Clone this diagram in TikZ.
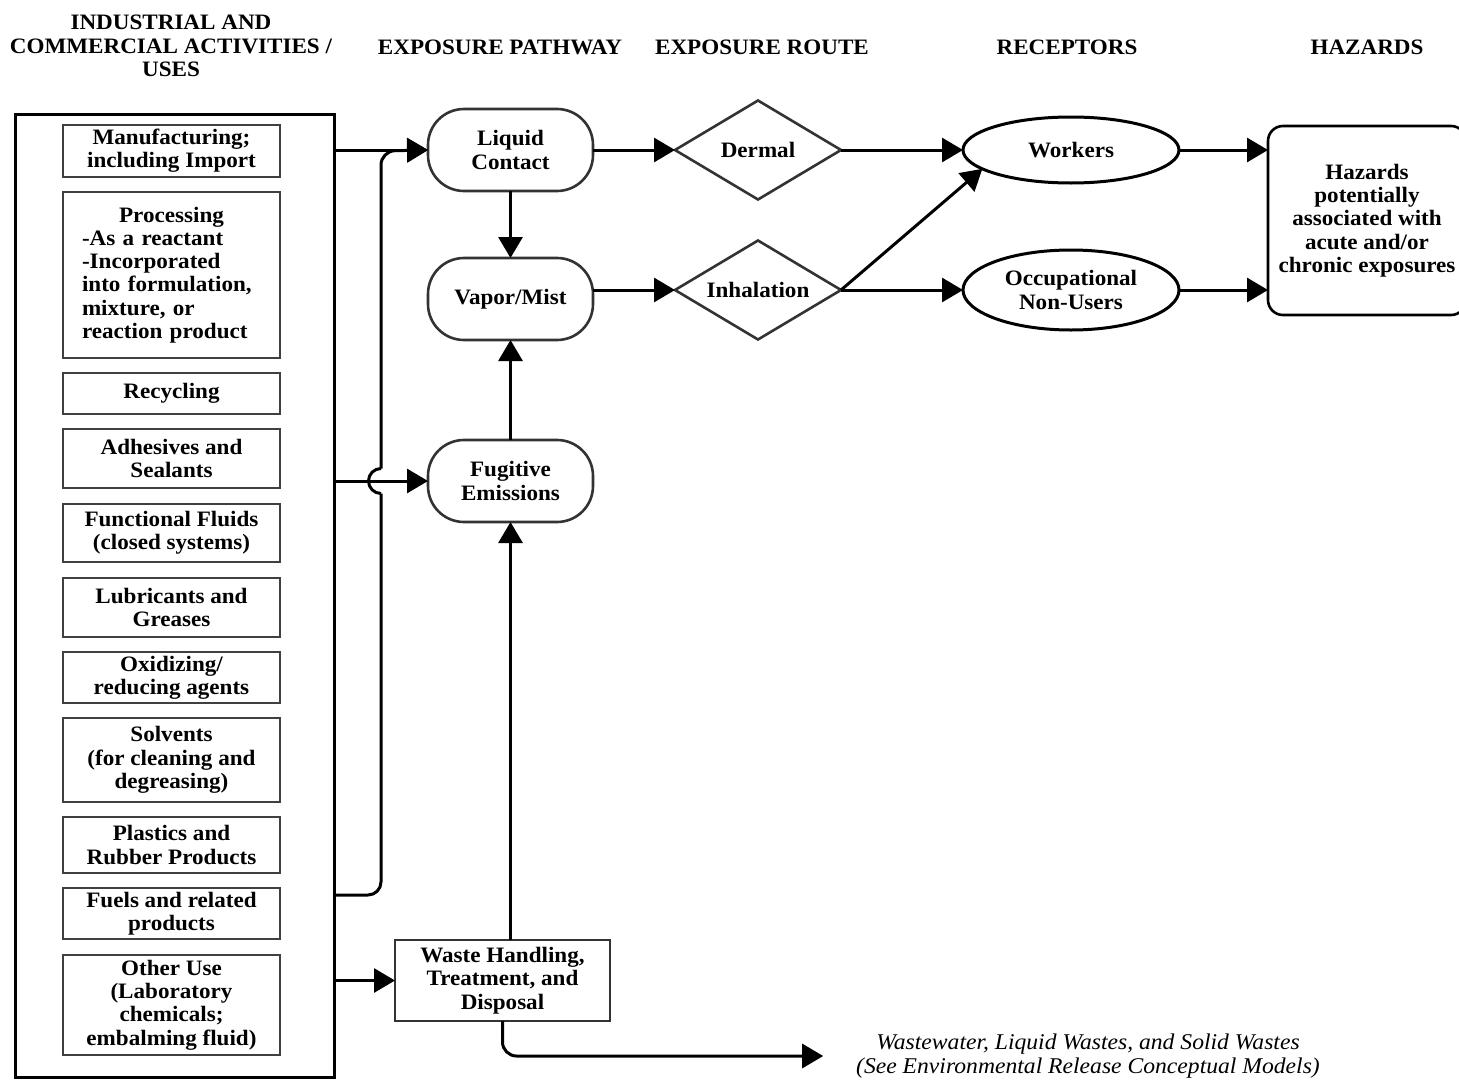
\documentclass[tikz,border=0pt]{standalone}
\usepackage{fontspec}
\setmainfont{Liberation Serif}[FakeStretch=1.05]
\usetikzlibrary{arrows.meta,shapes.geometric}

\begin{document}
\begin{tikzpicture}[x=1pt,y=-1pt,
  font=\fontsize{22}{23.3}\selectfont\bfseries,
  every node/.style={inner sep=0pt, outer sep=0pt},
  heading/.style={align=center},
  usebox/.style={draw=black!75, line width=2.8pt, minimum width=217pt, align=center},
  frame/.style={draw, line width=3pt},
  pathnode/.style={draw=black!80, line width=2.6pt, rounded corners=36pt,
    minimum width=165pt, minimum height=82pt, align=center},
  route/.style={diamond, aspect=1.68, draw=black!80, line width=2.6pt,
    minimum width=166pt, minimum height=99pt, align=center},
  receptor/.style={ellipse, draw, line width=3pt, minimum width=216pt, align=center},
  wline/.style={line width=3pt, line cap=butt},
  conn/.style={wline, -{Triangle[length=21pt,width=24pt]}}]

\useasboundingbox (0,0) rectangle (1459,1079);

% column headings
\node[heading] (h1) at (171,46) {INDUSTRIAL AND\\COMMERCIAL ACTIVITIES /\\USES};
\node[heading] (h2) at (500,47) {EXPOSURE PATHWAY};
\node[heading] (h3) at (762,47) {EXPOSURE ROUTE};
\node[heading] (h4) at (1067,47) {RECEPTORS};
\node[heading] (h5) at (1367,47) {HAZARDS};

% activities / uses
\node[frame, minimum width=319pt, minimum height=963pt] (uses) at (174.5,595.5) {};
\node[usebox, minimum height=52pt] (mfg) at (171.5,151) {Manufacturing;\\including Import};
\node[usebox, minimum height=166pt, text width=179pt, align=left] (proc) at (171.5,275)
  {\makebox[\linewidth][c]{Processing}\\-As a reactant\\-Incorporated\\into formulation,\\mixture, or\\reaction product};
\node[usebox, minimum height=41pt] (recy) at (171.5,393.5) {Recycling};
\node[usebox, minimum height=59pt] (adh) at (171.5,458.5) {Adhesives and\\Sealants};
\node[usebox, minimum height=58pt] (func) at (171.5,533) {Functional Fluids\\(closed systems)};
\node[usebox, minimum height=59pt] (lub) at (171.5,607.5) {Lubricants and\\Greases};
\node[usebox, minimum height=51pt] (oxi) at (171.5,677.5) {Oxidizing/\\reducing agents};
\node[usebox, minimum height=84pt] (solv) at (171.5,760) {Solvents\\(for cleaning and\\degreasing)};
\node[usebox, minimum height=56pt] (plas) at (171.5,845) {Plastics and\\Rubber Products};
\node[usebox, minimum height=51pt] (fuel) at (171.5,913.5) {Fuels and related\\products};
\node[usebox, minimum height=100pt] (other) at (171.5,1005) {Other Use\\(Laboratory\\chemicals;\\embalming fluid)};

% exposure pathways
\node[pathnode] (lc) at (510.5,150) {Liquid\\Contact};
\node[pathnode] (vm) at (510.5,299) {Vapor/Mist};
\node[pathnode] (fe) at (510.5,481) {Fugitive\\Emissions};
\node[frame, line width=2.6pt, draw=black!80, minimum width=215pt, minimum height=81pt, align=center]
  (waste) at (502.5,980.5) {Waste Handling,\\Treatment, and\\Disposal};
\node[font=\fontsize{22.5}{23.8}\selectfont\itshape, align=center, inner xsep=33pt]
  (ww) at (1088,1056) {Wastewater, Liquid Wastes, and Solid Wastes\\(See Environmental Release Conceptual Models)};

% exposure routes
\node[route] (derm) at (758,150) {Dermal};
\node[route] (inh) at (758,290) {Inhalation};

% receptors
\node[receptor, minimum height=66pt] (work) at (1071,150) {Workers};
\node[receptor, minimum height=80pt] (occ) at (1071,290) {Occupational\\Non-Users};

% hazards
\node[draw, line width=2.6pt, rounded corners=15pt, minimum width=198pt, minimum height=189pt, align=center]
  (haz) at (1367,220.5) {Hazards\\potentially\\associated with\\acute and/or\\chronic exposures};

% activities to pathways
\coordinate (bus) at (uses.east |- 0,895);
\draw[conn] (uses.east |- lc.west) -- (lc.west);
\draw[conn] (uses.east |- fe.west) -- (fe.west);
\draw[conn] (uses.east |- waste.west) -- (waste.west);
\draw[wline, rounded corners=13pt] (bus) -- (381,895) -- (381,493.5);
\draw[wline] (381,493.5) arc[start angle=90, end angle=270, radius=12.5];
\draw[conn, rounded corners=14pt] (381,468.5) -- (381,151) -- (lc.west);

% between pathways
\draw[conn] (lc.south) -- (vm.north);
\draw[conn] (fe.north) -- (vm.south);
\draw[conn] (fe.south |- waste.north) -- (fe.south);
\draw[conn, rounded corners=14pt] (waste.south) |- (ww.west);

% pathways to routes
\draw[conn] (lc.east) -- (derm.west);
\draw[conn] (vm.east |- inh.west) -- (inh.west);

% routes to receptors
\draw[conn] (derm.east) -- (work.west);
\draw[conn] (inh.east) -- (occ.west);
\draw[conn] (inh.east) -- (work.192);

% receptors to hazards
\draw[conn] (work.east) -- (haz.west |- work.east);
\draw[conn] (occ.east) -- (haz.west |- occ.east);

\end{tikzpicture}
\end{document}
